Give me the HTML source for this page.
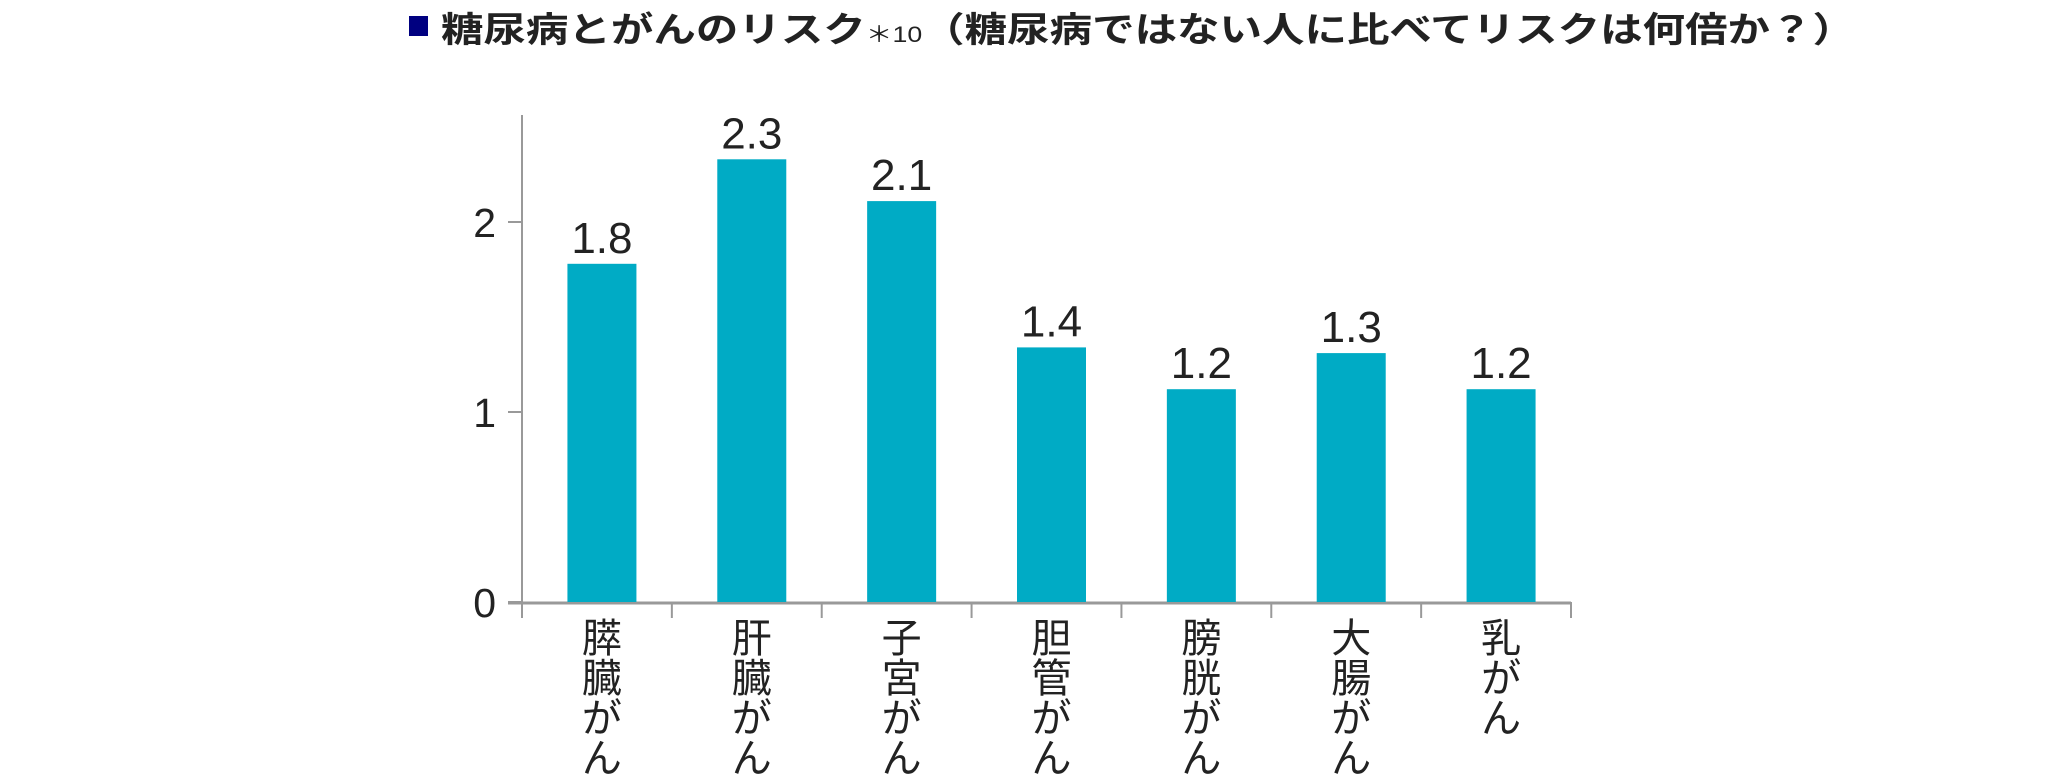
<!DOCTYPE html>
<html><head><meta charset="utf-8"><style>
html,body{margin:0;padding:0;background:#fff;}
svg{display:block;font-family:"Liberation Sans","Noto Sans CJK JP",sans-serif;}
</style></head><body>
<svg id="chart" width="2048" height="780" viewBox="0 0 2048 780" xmlns="http://www.w3.org/2000/svg">
<rect x="409" y="16" width="19" height="20" fill="#000080"/>
<text x="441" y="42" font-size="35" font-weight="bold" fill="#222" textLength="1414" lengthAdjust="spacingAndGlyphs">糖尿病とがんのリスク<tspan font-size="22" font-weight="normal">＊10</tspan>（糖尿病ではない人に比べてリスクは何倍か？）</text>
<g id="axes"></g><g id="bars"></g>
</svg>
<script>
const categories = ["膵臓がん","肝臓がん","子宮がん","胆管がん","膀胱がん","大腸がん","乳がん"];
const values = [1.78, 2.33, 2.11, 1.34, 1.12, 1.31, 1.12];
const valueLabels = ["1.8","2.3","2.1","1.4","1.2","1.3","1.2"];
const yTicks = [0, 1, 2];

const NS = "http://www.w3.org/2000/svg";
const x0 = 522, x1 = 1571, yBase = 602, yTop = 115, unit = 190;
const bandW = (x1 - x0) / categories.length, barW = 69;
const y = v => yBase - v * unit;
const xc = i => x0 + 5 + bandW * (i + 0.5);
function mk(tag, attrs, parent) { const e = document.createElementNS(NS, tag); for (const k in attrs) e.setAttribute(k, attrs[k]); parent.appendChild(e); return e; }
const axes = document.getElementById("axes"), bars = document.getElementById("bars");

const ya = mk("line", {x1: x0, y1: yTop, x2: x0, y2: yBase, stroke: "#999", "stroke-width": 2}, axes);


const xa = mk("line", {x1: x0 - 14, y1: yBase + 1, x2: x1, y2: yBase + 1, stroke: "#999", "stroke-width": 3}, axes);



yTicks.forEach(t => {
  const tk = mk("line", {x1: x0 - 14, y1: y(t), x2: x0, y2: y(t), stroke: "#999", "stroke-width": 2}, axes);
  
  
  const lb = mk("text", {x: 496, y: y(t) + 15, "font-size": 41, "text-anchor": "end", fill: "#222"}, axes);
  lb.textContent = String(t);
  
  
});
for (let i = 0; i <= categories.length; i++) {
  const xx = x0 + bandW * i;
  const tk = mk("line", {x1: xx, y1: yBase, x2: xx, y2: yBase + 16, stroke: "#999", "stroke-width": 2}, axes);
  
  
}
categories.forEach((c, i) => {
  const r = mk("rect", {x: xc(i) - barW / 2, y: y(values[i]), width: barW, height: yBase - y(values[i]), fill: "#00abc5"}, bars);
  
  
  const v = mk("text", {x: xc(i), y: y(values[i]) - 11, "font-size": 44, "text-anchor": "middle", fill: "#222"}, bars);
  v.textContent = valueLabels[i];
  
  
  const g = mk("g", {}, bars);
  
  
  [...c].forEach((ch, k) => {
    const t = mk("text", {x: xc(i), y: 652 + k * 40, "font-size": 40, "text-anchor": "middle", fill: "#222"}, g);
    t.textContent = ch;
  });
});
</script>
</body></html>
